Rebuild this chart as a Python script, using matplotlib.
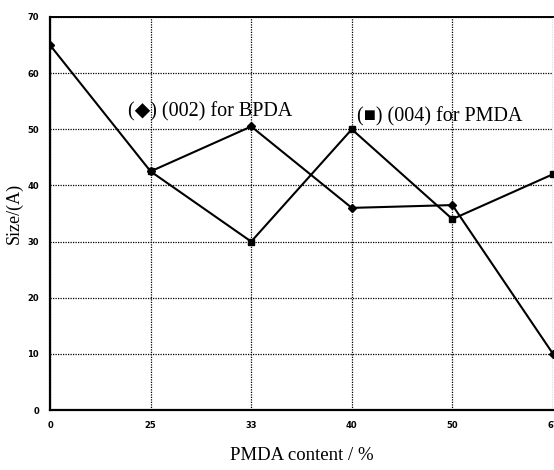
import matplotlib.pyplot as plt
import numpy as np

# PMDA content categories (equally spaced on the axis)
categories = ['0', '25', '33', '40', '50', '67']
bpda_size = [65, 42.5, 50.5, 36, 36.5, 10]
pmda_size = [np.nan, 42.5, 30, 50, 34, 42]
y_ticks = [0, 10, 20, 30, 40, 50, 60, 70]


def main():
    fig = plt.figure(figsize=(5.54, 4.70), dpi=100)
    ax = fig.add_axes([50 / 554, 60 / 470, 503 / 554, 393 / 470])

    x = np.arange(len(categories))
    ax.plot(x, bpda_size, color='black', lw=1.5, marker='D', ms=4.5)
    ax.plot(x, pmda_size, color='black', lw=1.5, marker='s', ms=4.5)

    ax.set_xlim(0, len(categories) - 1)
    ax.set_ylim(0, 70)
    ax.set_xticks(x)
    ax.set_xticklabels(categories)
    ax.set_yticks(y_ticks)
    ax.tick_params(length=0, labelsize=6, pad=8)
    for lab in ax.get_xticklabels() + ax.get_yticklabels():
        lab.set_fontweight('bold')

    ax.grid(True, color='black', ls=(0, (1, 1)), lw=0.9)
    for side in ['left', 'bottom']:
        ax.spines[side].set_linewidth(1.6)
    ax.spines['top'].set_linewidth(1.4)
    ax.spines['right'].set_visible(False)

    serif = ['Liberation Serif', 'DejaVu Serif']
    ax.set_xlabel('PMDA content / %', family=serif, fontsize=13.5, labelpad=12)
    ax.set_ylabel('Size/(A)', family=serif, fontsize=13, labelpad=3)

    ax.text(0.78, 53.2, '(\u25c6) (002) for BPDA', family=serif, fontsize=14.5,
            va='center', ha='left')
    ax.text(3.05, 52.3, '(\u25a0) (004) for PMDA', family=serif, fontsize=14.5,
            va='center', ha='left')

    fig.savefig('out.png', dpi=100)


if __name__ == "__main__":
    main()
